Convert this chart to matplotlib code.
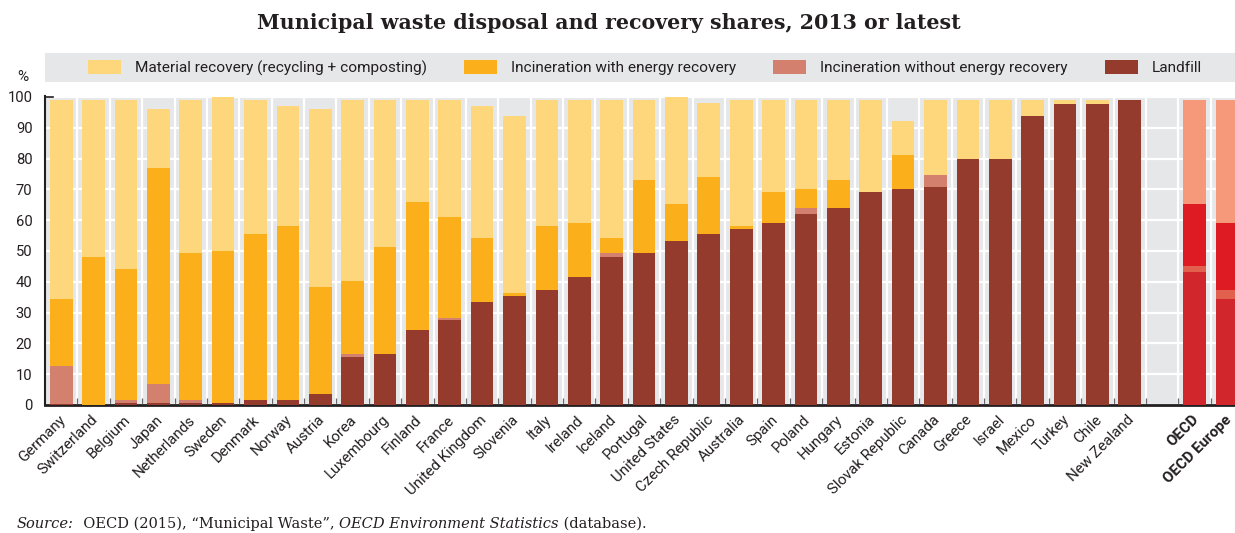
import matplotlib
matplotlib.use("Agg")
import matplotlib.pyplot as plt
from matplotlib.patches import Rectangle, Patch
import matplotlib.transforms as mtransforms
import numpy as np

countries = ["Germany", "Switzerland", "Belgium", "Japan", "Netherlands", "Sweden",
             "Denmark", "Norway", "Austria", "Korea", "Luxembourg", "Finland", "France",
             "United Kingdom", "Slovenia", "Italy", "Ireland", "Iceland", "Portugal",
             "United States", "Czech Republic", "Australia", "Spain", "Poland", "Hungary",
             "Estonia", "Slovak Republic", "Canada", "Greece", "Israel", "Mexico", "Turkey",
             "Chile", "New Zealand"]
aggregates = ["OECD", "OECD Europe"]

landfill = [0.4, 0.0, 0.8, 0.8, 0.8, 0.7, 1.6, 1.6, 3.6, 15.5, 16.5, 24.4, 27.7, 33.4,
            35.4, 37.4, 41.4, 48.1, 49.2, 53.3, 55.4, 57.1, 59.0, 61.9, 64.0, 69.2, 70.1,
            70.8, 79.8, 79.8, 93.7, 97.6, 97.6, 98.9]
incin_without = [12.2, 0.0, 0.9, 6.0, 0.8, 0.0, 0.0, 0.0, 0.0, 1.0, 0.0, 0.0, 0.7, 0.0,
                 0.0, 0.0, 0.0, 1.1, 0.0, 0.0, 0.0, 0.0, 0.0, 2.0, 0.0, 0.0, 0.0,
                 3.8, 0.0, 0.0, 0.0, 0.0, 0.0, 0.0]
incin_with = [21.7, 48.1, 42.6, 70.2, 47.6, 49.3, 53.8, 56.6, 34.7, 23.7, 34.9, 41.5, 32.6,
              20.8, 0.9, 20.8, 17.6, 5.0, 23.8, 11.9, 18.7, 1.1, 10.2, 6.2, 9.0, 0.0, 10.9,
              0.0, 0.0, 0.0, 0.0, 0.0, 0.0, 0.0]
material = [64.6, 50.8, 54.6, 19.0, 49.7, 50.0, 43.5, 38.9, 57.7, 58.7, 47.5, 33.0, 37.9,
            43.0, 57.6, 40.7, 39.9, 44.7, 25.9, 34.8, 24.0, 40.7, 29.7, 28.8, 25.9, 29.7,
            11.2, 24.3, 19.1, 19.1, 5.2, 1.3, 1.3, 0.0]

agg_landfill = [43.2, 34.3]
agg_incin_without = [2.0, 3.0]
agg_incin_with = [19.9, 21.7]
agg_material = [33.8, 39.9]

series_names = ["Material recovery (recycling + composting)", "Incineration with energy recovery",
                "Incineration without energy recovery", "Landfill"]
yticks = list(range(0, 101, 10))

# colours
C_MAT, C_WITH, C_WO, C_LAND = "#FED67B", "#FBB01B", "#D4806F", "#953B2E"
A_MAT, A_WITH, A_WO, A_LAND = "#F5997A", "#DE1B22", "#E2604E", "#D0262C"
BG = "#E6E7E8"
DARK = "#231F20"

SANS = "Roboto"
SERIF = "DejaVu Serif"

W, H = 1235, 533
fig = plt.figure(figsize=(W / 100, H / 100), dpi=100)
ax = fig.add_axes([45 / W, (H - 405) / H, 1190 / W, 309 / H])
ax.set_facecolor(BG)

n = len(countries)
x_c = np.arange(n)
x_a = np.arange(n + 1, n + 3)
bw = 0.70

def stack(xs, segs, cols):
    bottom = np.zeros(len(xs))
    for vals, col in zip(segs, cols):
        ax.bar(xs, vals, bw, bottom=bottom, color=col, linewidth=0, zorder=3)
        bottom = bottom + np.array(vals)

stack(x_c, [landfill, incin_without, incin_with, material], [C_LAND, C_WO, C_WITH, C_MAT])
stack(x_a, [agg_landfill, agg_incin_without, agg_incin_with, agg_material], [A_LAND, A_WO, A_WITH, A_MAT])

ax.set_xlim(-0.5, 36.25)
ax.set_ylim(0, 100.3)
ax.set_yticks(yticks)
ax.set_yticklabels([str(v) for v in yticks], fontsize=10.6, family=SANS, color=DARK)
ax.tick_params(axis="y", length=0, pad=9)
ax.yaxis.grid(True, color="white", linewidth=1.6, zorder=1)

ticks = list(x_c) + list(x_a)
labels = countries + aggregates
ax.set_xticks(ticks)
ax.set_xticklabels(labels, rotation=45, ha="right", va="center", rotation_mode="anchor",
                   fontsize=10.8, family=SANS, color=DARK)
ax.tick_params(axis="x", which="major", length=0, pad=9)
for lab in ax.get_xticklabels():
    if lab.get_text() in aggregates:
        lab.set_fontweight("bold")
    lab.set_transform(lab.get_transform() + mtransforms.ScaledTranslation(1.5 / 72, 0, fig.dpi_scale_trans))

ax.set_xticks(np.arange(-0.5, n + 2.5, 1.0)[1:], minor=True)
ax.tick_params(axis="x", which="minor", direction="in", length=5, width=0.9, color="#666666")
ax.xaxis.grid(True, which="minor", color="white", linewidth=1.6, zorder=1)
ax.set_axisbelow(True)

for s in ["top", "right"]:
    ax.spines[s].set_visible(False)
ax.spines["left"].set_color(DARK)
ax.spines["left"].set_linewidth(1.5)
ax.spines["bottom"].set_color(DARK)
ax.spines["bottom"].set_linewidth(2.0)
ax.plot([0, 0.007], [100, 100], transform=ax.get_yaxis_transform(), color=DARK, lw=1.2,
        clip_on=False, zorder=5)

# % label
fig.text(23 / W, 1 - 77 / H, "%", fontsize=11, family=SANS, color=DARK, ha="center", va="center")

# Title
fig.text(609 / W, 1 - 23 / H, "Municipal waste disposal and recovery shares, 2013 or latest",
         fontsize=14.8, family=SERIF, fontweight="bold", color=DARK, ha="center", va="center")

# Legend box
fig.add_artist(Rectangle((45 / W, 1 - 82 / H), 1190 / W, 29 / H, transform=fig.transFigure,
                         facecolor=BG, edgecolor="none", zorder=0))
handles = [Patch(facecolor=c, edgecolor="none") for c in [C_MAT, C_WITH, C_WO, C_LAND]]
fs_leg = 11.1
px = fs_leg * 100 / 72
leg = fig.legend(handles, series_names, loc="center", bbox_to_anchor=(645 / W, 1 - 68 / H),
                 ncol=4, frameon=False, prop={"family": SANS, "size": fs_leg},
                 handlelength=33 / px, handleheight=16 / px, handletextpad=14 / px,
                 columnspacing=37 / px, borderpad=0, borderaxespad=0)
for t in leg.get_texts():
    t.set_color(DARK)

# Source line
pieces = [("Source:", "italic"), ("  OECD (2015), \u201cMunicipal Waste\u201d, ", "normal"),
          ("OECD Environment Statistics", "italic"), (" (database).", "normal")]
fig.canvas.draw()
renderer = fig.canvas.get_renderer()
xpos = 17
for txt, style in pieces:
    t = fig.text(xpos / W, 1 - 524 / H, txt, fontsize=10.5, family=SERIF, style=style,
                 color=DARK, ha="left", va="center")
    bb = t.get_window_extent(renderer=renderer)
    xpos += bb.width

fig.savefig("out.png", dpi=100)
